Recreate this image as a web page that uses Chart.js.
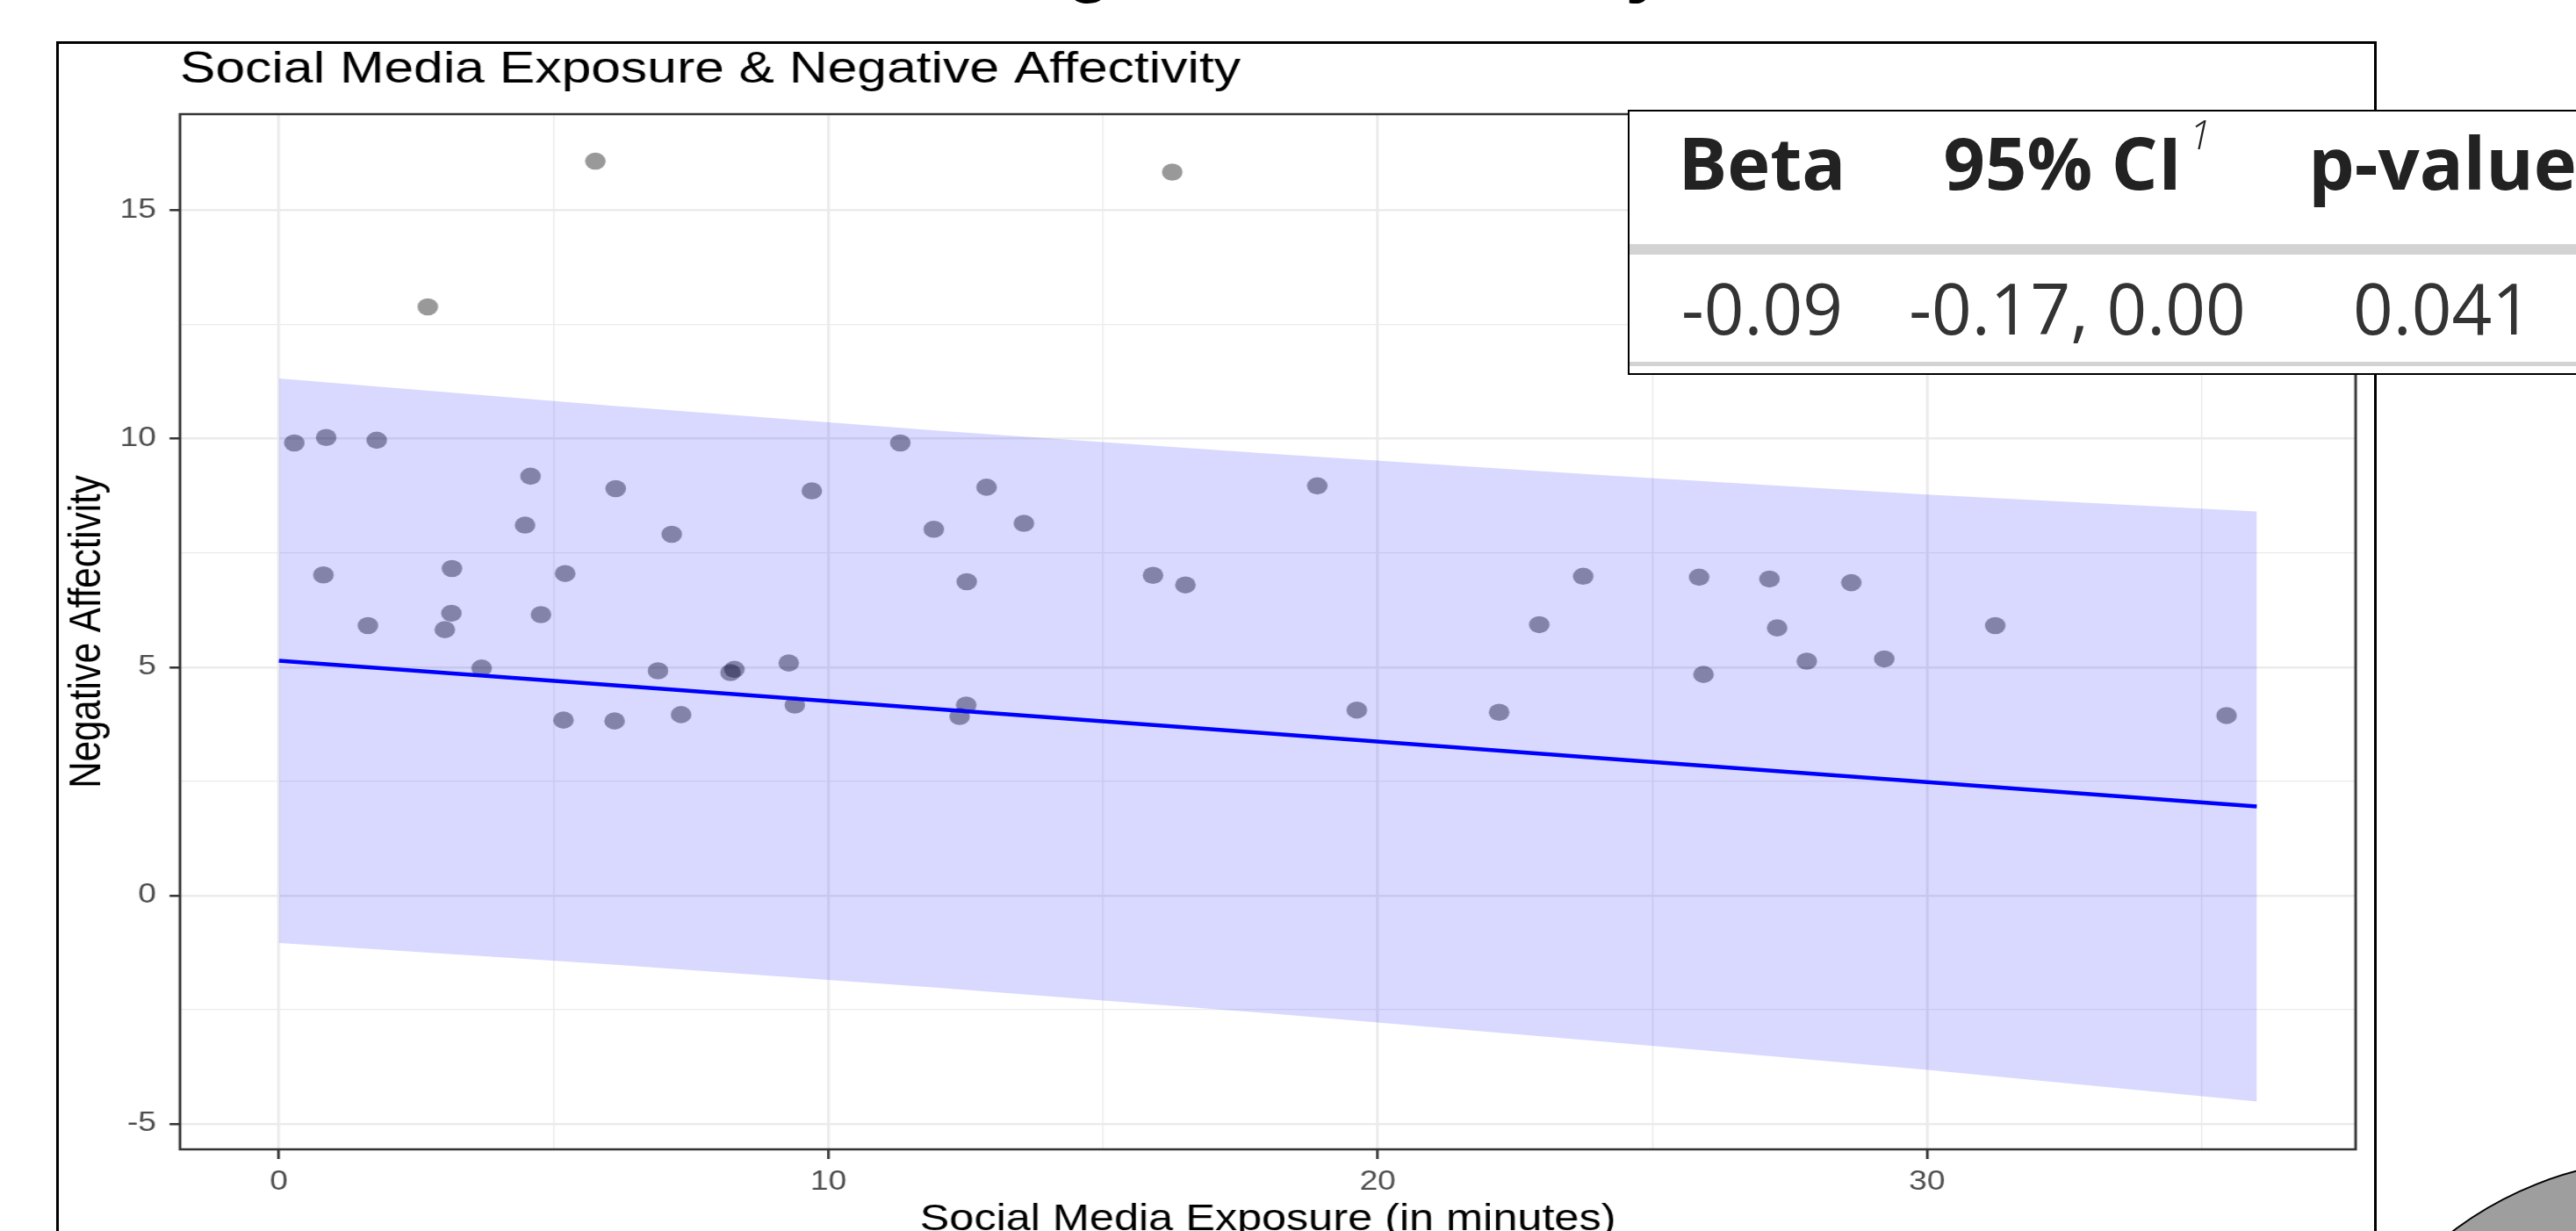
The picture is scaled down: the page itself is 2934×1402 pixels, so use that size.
<!DOCTYPE html>
<html>
<head>
<meta charset="utf-8">
<script src="https://cdn.jsdelivr.net/npm/chart.js@4.4.0/dist/chart.umd.min.js"></script>
<style>
  html, body { margin: 0; padding: 0; background: #fff; overflow: hidden; }
  body { width: 2934px; height: 1402px; position: relative; }
  #slideTitle { position: absolute; left: 1104px; top: -87px; font: bold 86px "Liberation Sans", Arial, sans-serif; line-height: 1; color: #000; white-space: nowrap; }
  #frame { position: absolute; left: 63.5px; top: 46.5px; width: 2643px; height: 1500px; border: 3px solid #000; box-sizing: border-box; }
  #stretch { position: absolute; left: 0; top: 0; width: 2445px; height: 1440px; transform: scaleX(1.2); transform-origin: 0 0; }
  #tbl { position: absolute; left: 1854px; top: 124.5px; width: 1200px; height: 302px; border: 2.5px solid #000; background: #fff; box-sizing: border-box; }
  .hline { position: absolute; left: 1856px; width: 1100px; background: #d3d3d3; }
  .cell { position: absolute; width: 440px; text-align: center; line-height: 1; color: #222; white-space: nowrap; font-family: "Open Sans", sans-serif; }
  .head { font-size: 83px; font-weight: 700; }
  .val { font-size: 80px; font-weight: 400; color: #333; }
  .sup { font-size: 46px; font-style: italic; font-weight: 300; position: relative; top: -46px; margin-left: 8px; }
  #blob { position: absolute; left: 2631px; top: 1319px; width: 816px; height: 816px; border-radius: 50%; background: #9e9e9e; border: 2.5px solid #000; box-sizing: border-box; }
</style>
</head>
<body>
<div id="slideTitle">Negative Affectivity</div>
<div id="frame"></div>
<div id="stretch"><canvas id="scatterChart"></canvas></div>
<div id="tbl"></div>
<div id="blob"></div>
<script>
// points
const exposure = [0.28, 0.81, 0.86, 1.62, 1.78, 2.71, 3.02, 3.14, 3.15, 3.69,
  4.48, 4.58, 4.77, 5.18, 5.21, 5.76, 6.11, 6.13, 6.90, 7.15,
  7.32, 8.22, 8.29, 9.28, 9.39, 9.70, 11.31, 11.92, 12.39, 12.51,
  12.52, 12.88, 13.56, 15.91, 16.26, 16.50, 18.90, 19.62, 22.21, 22.94,
  23.74, 25.85, 25.93, 27.13, 27.27, 27.81, 28.62, 29.22, 31.24, 35.45];
const negAffect = [9.91, 7.02, 10.03, 5.91, 9.97, 12.89, 5.82, 6.18, 7.16, 4.98,
  8.11, 9.18, 6.15, 3.84, 7.05, 16.08, 3.82, 8.91, 4.92, 7.91,
  3.96, 4.88, 4.95, 5.09, 4.17, 8.86, 9.91, 8.02, 3.92, 4.17,
  6.87, 8.94, 8.15, 7.01, 15.84, 6.80, 8.97, 4.06, 4.01, 5.93,
  6.99, 6.97, 4.84, 6.93, 5.86, 5.13, 6.85, 5.18, 5.91, 3.94];

// fitted line and band
const fitX = [0, 6, 12, 18, 24, 30, 36];
const fitY = [5.14, 4.61, 4.08, 3.55, 3.01, 2.48, 1.95];
const bandHi = [11.32, 10.73, 10.18, 9.68, 9.21, 8.78, 8.41];
const bandLo = [-1.04, -1.51, -2.02, -2.58, -3.19, -3.82, -4.51];

const xTickLabels = [0, 10, 20, 30];
const yTickLabels = [-5, 0, 5, 10, 15];

const tableHead = ["Beta", "95% CI", "p-value"];
const tableRow = ["-0.09", "-0.17, 0.00", "0.041"];

// table overlay
const colCenters = [2007, 2366, 2782];
const body = document.body;
const addLine = (top, h) => {
  const d = document.createElement("div");
  d.className = "hline";
  d.style.top = top + "px";
  d.style.height = h + "px";
  body.appendChild(d);
};
addLine(278, 12);
addLine(412, 5);
tableHead.forEach((t, i) => {
  const d = document.createElement("div");
  d.className = "cell head";
  d.style.left = (colCenters[i] - 220) + "px";
  d.style.top = "142px";
  d.textContent = t;
  if (i === 1) {
    const s = document.createElement("span");
    s.className = "sup";
    s.textContent = "1";
    d.appendChild(s);
  }
  body.appendChild(d);
});
tableRow.forEach((t, i) => {
  const d = document.createElement("div");
  d.className = "cell val";
  d.style.left = (colCenters[i] - 220) + "px";
  d.style.top = "310px";
  d.textContent = t;
  body.appendChild(d);
});

const toXY = (xs, ys) => xs.map((x, i) => ({ x: x, y: ys[i] }));
const font = "'Liberation Sans', Arial, sans-serif";

const panelBorder = {
  id: "panelBorder",
  afterDatasetsDraw(chart) {
    const { ctx, chartArea: a } = chart;
    ctx.save();
    ctx.strokeStyle = "#333333";
    ctx.lineWidth = 2.5;
    ctx.strokeRect(a.left, a.top, a.right - a.left, a.bottom - a.top);
    ctx.restore();
  }
};

const gridFor = (labels, tl) => ({
  color: "#ebebeb",
  lineWidth: c => labels.includes(c.tick.value) ? 2.6 : 1.3,
  tickLength: tl,
  tickWidth: 2.5,
  tickColor: c => labels.includes(c.tick.value) ? "#333333" : "rgba(0,0,0,0)"
});

const ctx = document.getElementById("scatterChart");

new Chart(ctx, {
  type: "scatter",
  data: {
    datasets: [
      {
        label: "fit",
        type: "line",
        data: toXY(fitX, fitY),
        borderColor: "#0000ff",
        borderWidth: 4.5,
        pointRadius: 0,
        fill: false,
        order: 0
      },
      {
        label: "upper",
        type: "line",
        data: toXY(fitX, bandHi),
        borderWidth: 0,
        pointRadius: 0,
        fill: false,
        order: 1
      },
      {
        label: "lower",
        type: "line",
        data: toXY(fitX, bandLo),
        borderWidth: 0,
        pointRadius: 0,
        backgroundColor: "rgba(0,0,255,0.15)",
        fill: "-1",
        order: 1
      },
      {
        label: "points",
        data: toXY(exposure, negAffect),
        backgroundColor: "rgba(0,0,0,0.4)",
        borderWidth: 0,
        pointRadius: 9.8,
        order: 3
      }
    ]
  },
  options: {
    responsive: true,
    maintainAspectRatio: false,
    animation: false,
    events: [],
    layout: { padding: { left: 50, right: 209.17, top: 39.4, bottom: 21 } },
    plugins: {
      legend: { display: false },
      tooltip: { enabled: false },
      title: {
        display: true,
        text: "Social Media Exposure & Negative Affectivity",
        align: "start",
        fullSize: false,
        color: "#000",
        font: { family: font, size: 50.5, weight: "normal" },
        padding: { top: 10, bottom: 20 }
      }
    },
    scales: {
      x: {
        type: "linear",
        min: -1.8,
        max: 37.8,
        afterFit: s => { s.height = 110; },
        border: { display: false },
        grid: gridFor(xTickLabels, 11),
        ticks: {
          stepSize: 5,
          includeBounds: false,
          autoSkip: false,
          maxRotation: 0,
          padding: 8,
          color: "#4d4d4d",
          font: { family: font, size: 31 },
          callback: v => xTickLabels.includes(v) ? v : ""
        },
        title: {
          display: true,
          text: "Social Media Exposure (in minutes)",
          color: "#000",
          font: { family: font, size: 42 },
          padding: { top: 0, bottom: 4 }
        }
      },
      y: {
        type: "linear",
        min: -5.56,
        max: 17.11,
        afterFit: s => { s.width = 120.83; },
        border: { display: false },
        grid: gridFor(yTickLabels, 10),
        ticks: {
          stepSize: 2.5,
          includeBounds: false,
          padding: 12.5,
          color: "#4d4d4d",
          font: { family: font, size: 31 },
          callback: v => yTickLabels.includes(v) ? v : ""
        },
        title: {
          display: true,
          text: "Negative Affectivity",
          color: "#000",
          font: { family: font, size: 42 },
          padding: { top: 8, bottom: 0 }
        }
      }
    }
  },
  plugins: [panelBorder]
});
</script>
</body>
</html>
